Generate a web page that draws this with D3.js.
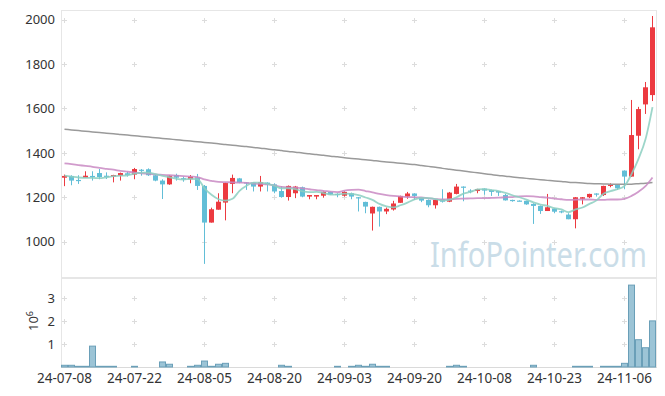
<!DOCTYPE html>
<html>
<head>
<meta charset="utf-8">
<script src="https://cdn.jsdelivr.net/npm/d3@7"></script>
<style>
  body { margin: 0; background: #fff; }
</style>
</head>
<body>
<div id="chart"></div>
<script>
// Data

// trading days shown on the chart
const dates = [
  "2024-07-08","2024-07-09","2024-07-10","2024-07-11","2024-07-12",
  "2024-07-15","2024-07-16","2024-07-17","2024-07-18","2024-07-19",
  "2024-07-22","2024-07-23","2024-07-24","2024-07-25","2024-07-26",
  "2024-07-29","2024-07-30","2024-07-31","2024-08-01","2024-08-02",
  "2024-08-05","2024-08-06","2024-08-07","2024-08-08","2024-08-09",
  "2024-08-12","2024-08-13","2024-08-14","2024-08-16","2024-08-19",
  "2024-08-20","2024-08-21","2024-08-22","2024-08-23","2024-08-26",
  "2024-08-27","2024-08-28","2024-08-29","2024-08-30","2024-09-02",
  "2024-09-03","2024-09-04","2024-09-05","2024-09-06","2024-09-09",
  "2024-09-10","2024-09-11","2024-09-12","2024-09-13","2024-09-19",
  "2024-09-20","2024-09-23","2024-09-24","2024-09-25","2024-09-26",
  "2024-09-27","2024-09-30","2024-10-02","2024-10-04","2024-10-07",
  "2024-10-08","2024-10-10","2024-10-11","2024-10-14","2024-10-15",
  "2024-10-16","2024-10-17","2024-10-18","2024-10-21","2024-10-22",
  "2024-10-23","2024-10-24","2024-10-25","2024-10-28","2024-10-29",
  "2024-10-30","2024-10-31","2024-11-01","2024-11-04","2024-11-05",
  "2024-11-06","2024-11-07","2024-11-08","2024-11-11","2024-11-12"
];

const open = [
  1288,1296,1278,1288,1296,1309,1297,1293,1297,1308,
  1302,1324,1326,1299,1275,1258,1300,1286,1281,1290,
  1251,1086,1144,1176,1260,1285,1267,1266,1248,1266,
  1258,1228,1201,1218,1245,1203,1203,1207,1224,1215,
  1207,1218,1200,1179,1127,1157,1136,1145,1175,1203,
  1217,1200,1188,1164,1191,1180,1215,1248,1230,1228,
  1239,1233,1228,1210,1188,1185,1184,1170,1161,1138,
  1149,1137,1122,1101,1193,1200,1217,1210,1251,1255,
  1320,1293,1477,1618,1660
];

const high = [
  1302,1299,1299,1317,1317,1327,1312,1301,1311,1315,
  1332,1327,1330,1302,1281,1300,1306,1293,1300,1305,
  1255,1153,1218,1266,1302,1287,1267,1267,1296,1267,
  1263,1250,1253,1251,1248,1210,1210,1226,1226,1218,
  1227,1221,1201,1180,1158,1158,1154,1184,1207,1224,
  1218,1201,1190,1190,1236,1224,1260,1249,1236,1238,
  1240,1234,1229,1215,1189,1186,1185,1173,1163,1215,
  1150,1140,1128,1201,1201,1216,1218,1252,1263,1256,
  1321,1638,1607,1719,2016
];

const low = [
  1250,1254,1260,1288,1275,1281,1282,1267,1275,1293,
  1281,1297,1296,1272,1192,1256,1275,1270,1263,1233,
  900,1086,1144,1096,1218,1263,1233,1226,1226,1226,
  1218,1198,1185,1196,1200,1191,1191,1198,1210,1200,
  1203,1191,1136,1128,1050,1068,1124,1140,1174,1193,
  1188,1178,1155,1149,1176,1178,1213,1182,1218,1218,
  1211,1206,1206,1185,1180,1182,1166,1080,1125,1138,
  1128,1128,1101,1060,1168,1196,1203,1206,1245,1233,
  1236,1292,1416,1575,1633
];

const close = [
  1296,1275,1275,1297,1291,1291,1294,1300,1309,1300,
  1327,1321,1299,1275,1258,1297,1288,1281,1293,1251,
  1086,1146,1180,1264,1287,1266,1264,1248,1268,1258,
  1226,1201,1251,1248,1203,1210,1210,1224,1212,1211,
  1224,1203,1198,1158,1157,1136,1148,1172,1206,1217,
  1206,1185,1164,1188,1180,1221,1248,1245,1226,1237,
  1230,1224,1221,1186,1186,1182,1168,1161,1138,1155,
  1135,1134,1101,1200,1200,1215,1215,1251,1257,1240,
  1293,1480,1597,1695,1965
];

// volume, millions of shares
const volume = [
  0.075,0.075,0.03,0.03,0.91,0.03,0.03,0.03,0,0,
  0.03,0,0,0,0.22,0.12,0,0,0.03,0.075,
  0.26,0.03,0.12,0.16,0,0,0,0,0,0,
  0,0.075,0.03,0,0,0,0,0,0,0.03,
  0,0.03,0.075,0.03,0.12,0.03,0.03,0,0,0,
  0,0,0,0,0,0.03,0.075,0.03,0,0,
  0,0,0,0,0,0,0,0.075,0,0,
  0,0,0,0.03,0.03,0.03,0,0.03,0.03,0.03,
  0.16,3.57,1.19,0.84,2.01
];

// moving averages
const ma5 = [
  1297,1293,1289,1287,1287,1286,1290,1295,1297,1299,
  1306,1311,1311,1304,1296,1290,1283,1280,1283,1282,
  1240,1211,1191,1185,1193,1229,1252,1266,1266,1260,
  1252,1240,1240,1237,1226,1223,1224,1219,1212,1213,
  1216,1215,1210,1199,1188,1170,1159,1154,1164,1176,
  1190,1197,1196,1192,1185,1188,1200,1216,1224,1235,
  1237,1232,1228,1220,1209,1200,1189,1177,1167,1161,
  1151,1145,1133,1145,1154,1170,1186,1216,1228,1236,
  1251,1304,1373,1461,1606
];

const ma20 = [
  1353,1349,1345,1341,1337,1332,1328,1324,1319,1315,
  1311,1308,1306,1303,1301,1299,1297,1295,1293,1291,
  1280,1274,1269,1268,1267,1266,1265,1262,1260,1258,
  1253,1247,1244,1243,1240,1236,1232,1229,1225,1223,
  1230,1233,1234,1228,1222,1215,1210,1206,1203,1201,
  1200,1199,1195,1192,1190,1191,1193,1194,1195,1196,
  1196,1197,1198,1200,1201,1204,1205,1204,1201,1198,
  1194,1191,1188,1189,1190,1190,1188,1188,1190,1190,
  1193,1206,1225,1250,1289
];

const ma120 = [
  1506,1503,1500,1497,1494,1491,1488,1486,1483,1480,
  1477,1474,1471,1468,1465,1462,1459,1456,1453,1450,
  1447,1444,1441,1437,1434,1431,1428,1424,1421,1417,
  1414,1410,1406,1403,1399,1396,1392,1389,1385,1382,
  1378,1375,1372,1369,1366,1362,1359,1356,1353,1350,
  1347,1343,1339,1335,1330,1326,1322,1318,1314,1310,
  1306,1302,1298,1295,1291,1288,1285,1282,1279,1276,
  1273,1271,1268,1266,1264,1262,1261,1260,1259,1258,
  1258,1259,1261,1263,1266
];

const priceTicks = [1000, 1200, 1400, 1600, 1800, 2000];
const volumeTicks = [1, 2, 3];
const dateTicks = ["2024-07-08","2024-07-22","2024-08-05","2024-08-20","2024-09-03",
                   "2024-09-20","2024-10-08","2024-10-23","2024-11-06"];


// Chart setup
const width = 665;
const height = 396;
const left = 61, right = 656;
const priceTop = 10, priceBottom = 277;
const volTop = 278, volBottom = 367;
const font = '"Noto Sans", "Open Sans", sans-serif';
const upColor = '#ec3a40';
const downColor = '#62bed7';

const svg = d3.select('#chart')
  .append('svg')
  .attr('width', width)
  .attr('height', height);

const x = d3.scaleBand()
  .domain(d3.range(dates.length))
  .range([left, right]);
const xc = i => x(i) + x.bandwidth() / 2;

const y = d3.scaleLinear().domain([841, 2043]).range([priceBottom, priceTop]);
const yv = d3.scaleLinear().domain([0, 3.88]).range([volBottom, volTop]);

const parseDate = d3.timeParse('%Y-%m-%d');
const fmtDate = d3.timeFormat('%y-%m-%d');


// Watermark, squeezed horizontally to the reference width
const mark = svg.append('text')
  .attr('font-family', font)
  .attr('font-size', 35)
  .attr('fill', '#cadde8')
  .text('InfoPointer.com');
const markLen = mark.node().getComputedTextLength();
mark.attr('transform', `translate(430,267) scale(${217 / markLen},1)`);


// Panel frames
svg.append('rect')
  .attr('x', left + 0.5).attr('y', priceTop + 0.5)
  .attr('width', right - left).attr('height', priceBottom - priceTop)
  .attr('fill', 'none').attr('stroke', '#e6e6e6');

svg.append('rect')
  .attr('x', left + 0.5).attr('y', volTop + 0.5)
  .attr('width', right - left).attr('height', volBottom - volTop)
  .attr('fill', 'none').attr('stroke', '#e6e6e6');

svg.append('line')
  .attr('x1', left).attr('x2', right + 1)
  .attr('y1', volBottom + 0.5).attr('y2', volBottom + 0.5)
  .attr('stroke', '#dadada');


// Grid crosses
const tickIdx = dateTicks.map(d => dates.indexOf(d));
const crossPoints = [];
tickIdx.forEach(i => {
  priceTicks.forEach(p => crossPoints.push([Math.floor(xc(i)) + 0.5, Math.round(y(p)) + 0.5]));
  volumeTicks.forEach(v => crossPoints.push([Math.floor(xc(i)) + 0.5, Math.round(yv(v)) + 0.5]));
});

svg.append('g')
  .selectAll('path')
  .data(crossPoints)
  .enter().append('path')
  .attr('d', d => `M${d[0] - 2.5},${d[1]}h5M${d[0]},${d[1] - 2.5}v5`)
  .attr('stroke', '#dcdcdc')
  .attr('stroke-width', 1);


// Candles
const candles = svg.append('g')
  .selectAll('g')
  .data(dates.map((d, i) => i))
  .enter().append('g')
  .attr('fill', i => close[i] >= open[i] ? upColor : downColor)
  .attr('stroke', i => close[i] >= open[i] ? upColor : downColor);

candles.append('line')
  .attr('x1', i => Math.floor(xc(i)) + 0.5)
  .attr('x2', i => Math.floor(xc(i)) + 0.5)
  .attr('y1', i => y(high[i]))
  .attr('y2', i => y(low[i]))
  .attr('stroke-width', 1);

candles.append('rect')
  .attr('x', i => Math.floor(xc(i)) - 2)
  .attr('width', 5)
  .attr('y', i => y(Math.max(open[i], close[i])))
  .attr('height', i => Math.max(1.2, Math.abs(y(open[i]) - y(close[i]))))
  .attr('stroke', 'none');


// Moving average lines
const maLine = d3.line()
  .x((d, i) => xc(i))
  .y(d => y(d))
  .curve(d3.curveMonotoneX);

svg.append('path')
  .datum(ma120)
  .attr('d', maLine)
  .attr('fill', 'none')
  .attr('stroke', '#9a9a9a')
  .attr('stroke-width', 1.5);

svg.append('path')
  .datum(ma20)
  .attr('d', maLine)
  .attr('fill', 'none')
  .attr('stroke', '#c98ac3')
  .attr('stroke-opacity', 0.85)
  .attr('stroke-width', 1.8);

svg.append('path')
  .datum(ma5)
  .attr('d', maLine)
  .attr('fill', 'none')
  .attr('stroke', '#8ccfc1')
  .attr('stroke-opacity', 0.85)
  .attr('stroke-width', 1.8);


// Volume bars
svg.append('g')
  .selectAll('rect')
  .data(dates.map((d, i) => i).filter(i => volume[i] > 0))
  .enter().append('rect')
  .attr('x', i => x(i) + 0.5)
  .attr('width', x.bandwidth() - 1)
  .attr('y', i => yv(volume[i]))
  .attr('height', i => volBottom - yv(volume[i]))
  .attr('fill', '#9cc4d6')
  .attr('stroke', '#6a9fb8')
  .attr('stroke-width', 1);


// Axes (labels only)
function styleAxis(size) {
  return g => {
    g.select('.domain').remove();
    g.selectAll('line').remove();
    g.selectAll('text')
      .attr('font-family', font)
      .attr('font-size', size)
      .attr('fill', '#333');
  };
}

svg.append('g')
  .attr('transform', `translate(${left},0)`)
  .call(d3.axisLeft(y).tickValues(priceTicks).tickFormat(d3.format('d'))
    .tickSize(0).tickPadding(6))
  .call(styleAxis(13));

svg.append('g')
  .attr('transform', `translate(${left},0)`)
  .call(d3.axisLeft(yv).tickValues(volumeTicks).tickFormat(d3.format('d'))
    .tickSize(0).tickPadding(6))
  .call(styleAxis(13));

svg.append('g')
  .attr('transform', `translate(0,${volBottom})`)
  .call(d3.axisBottom(x).tickValues(tickIdx).tickSize(0).tickPadding(6)
    .tickFormat(i => fmtDate(parseDate(dates[i]))))
  .call(styleAxis(13.5));

// volume unit label
const unit = svg.append('text')
  .attr('transform', 'translate(38,321) rotate(-90)')
  .attr('text-anchor', 'middle')
  .attr('font-family', font)
  .attr('font-size', 13)
  .attr('fill', '#333');
unit.append('tspan').text('10');
unit.append('tspan').attr('dy', -5).attr('font-size', 9).text('6');
</script>
</body>
</html>
